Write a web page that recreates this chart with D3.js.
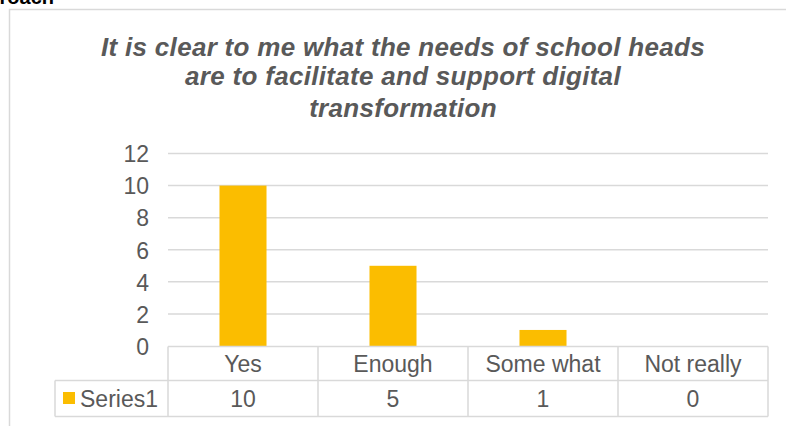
<!DOCTYPE html>
<html><head><meta charset="utf-8">
<script src="https://cdn.jsdelivr.net/npm/d3@7"></script>
<style>html,body{margin:0;padding:0;background:#fff;}svg{display:block;}</style>
</head><body>
<script>
const categories = ["Yes", "Enough", "Some what", "Not really"];
const values = [10, 5, 1, 0];
const seriesName = "Series1";
const yTicks = [0, 2, 4, 6, 8, 10, 12];
const titleLines = ["It is clear to me what the needs of school heads", "are to facilitate and support digital", "transformation"];

const W = 786, H = 426;
const svg = d3.select("body").append("svg").attr("width", W).attr("height", H);
const font = "'Liberation Sans', Arial, sans-serif";
const grey = "#595959", line = "#d9d9d9", gold = "#fbbd00";

// cropped heading above the chart
svg.append("text").attr("x", 54).attr("y", 4).attr("text-anchor", "end")
  .attr("font-family", font).attr("font-weight", "bold").attr("font-size", 20)
  .attr("fill", "#000").text("Approach");

// chart area border
svg.append("rect").attr("x", 9.5).attr("y", 9.5).attr("width", 800).attr("height", 500)
  .attr("fill", "#fff").attr("stroke", line).attr("stroke-width", 1.5);

// title
const title = svg.append("text").attr("font-family", font).attr("font-weight", "bold")
  .attr("font-style", "italic").attr("font-size", 26).attr("letter-spacing", 0.3)
  .attr("fill", grey).attr("text-anchor", "middle");
const titleY = [56, 85, 117];
titleLines.forEach((t, i) => title.append("tspan").attr("x", 403).attr("y", titleY[i]).text(t));

const x = d3.scaleBand().domain(categories).range([168, 768]).paddingInner(0).paddingOuter(0);
const y = d3.scaleLinear().domain([0, 12]).range([346, 153.5]);

// gridlines
svg.append("g").selectAll("line").data(yTicks.filter(d => d > 0)).join("line")
  .attr("x1", 168).attr("x2", 768).attr("y1", d => y(d)).attr("y2", d => y(d))
  .attr("stroke", line).attr("stroke-width", 1.5);

// y axis labels
const yAxis = d3.axisLeft(y).tickValues(yTicks).tickSize(0).tickPadding(0);
const yg = svg.append("g").attr("transform", "translate(149,0)").call(yAxis);
yg.select(".domain").remove();
yg.selectAll("text").attr("font-family", font).attr("font-size", 23).attr("fill", grey).attr("dy", "0.36em");

// bars
const barW = x.bandwidth() / 3.19;
svg.append("g").selectAll("rect").data(values).join("rect")
  .attr("x", (d, i) => x(categories[i]) + (x.bandwidth() - barW) / 2)
  .attr("width", barW)
  .attr("y", d => y(d)).attr("height", d => y(0) - y(d))
  .attr("fill", gold);

// data table
const rowTop = 346.5, rowMid = 380.5, rowBot = 416.5, leftCol = 55;
const tg = svg.append("g").attr("stroke", line).attr("stroke-width", 1.5).attr("fill", "none");
tg.append("line").attr("x1", 168).attr("x2", 768).attr("y1", rowTop).attr("y2", rowTop);
tg.append("line").attr("x1", leftCol).attr("x2", 768).attr("y1", rowMid).attr("y2", rowMid);
tg.append("line").attr("x1", leftCol).attr("x2", 768).attr("y1", rowBot).attr("y2", rowBot);
tg.append("line").attr("x1", leftCol).attr("x2", leftCol).attr("y1", rowMid).attr("y2", rowBot);
const edges = categories.map(c => x(c)).concat([x.range()[1]]);
tg.selectAll("line.v").data(edges).join("line").attr("class", "v")
  .attr("x1", d => d).attr("x2", d => d).attr("y1", rowTop).attr("y2", rowBot);

const txt = svg.append("g").attr("font-family", font).attr("font-size", 23).attr("fill", grey).attr("text-anchor", "middle");
txt.selectAll("text.cat").data(categories).join("text").attr("class", "cat")
  .attr("x", d => x(d) + x.bandwidth() / 2).attr("y", (rowTop + rowMid) / 2).attr("dy", "0.36em").text(d => d);
txt.selectAll("text.val").data(values).join("text").attr("class", "val")
  .attr("x", (d, i) => x(categories[i]) + x.bandwidth() / 2).attr("y", (rowMid + rowBot) / 2).attr("dy", "0.36em").text(d => d);

// legend key in table
svg.append("rect").attr("x", 63).attr("y", 392).attr("width", 12).attr("height", 12).attr("fill", gold);
svg.append("text").attr("x", 80).attr("y", (rowMid + rowBot) / 2).attr("dy", "0.36em")
  .attr("font-family", font).attr("font-size", 23).attr("fill", grey).text(seriesName);
</script>
</body></html>
